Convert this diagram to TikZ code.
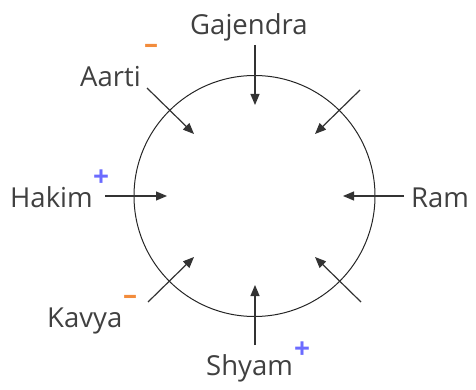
\documentclass[tikz,border=0pt]{standalone}
\usepackage{fontspec}
\setmainfont{Open Sans}
\usetikzlibrary{arrows.meta}
\definecolor{txt}{HTML}{404040}
\definecolor{minusc}{HTML}{F28C3C}
\definecolor{plusc}{HTML}{6B6BFF}
\begin{document}
\begin{tikzpicture}[x=1pt,y=-1pt,
  lbl/.style={anchor=base west,inner sep=0pt,text=txt,font=\fontsize{27.5}{30}\selectfont},
  sgn/.style={inner sep=0pt,font=\fontsize{28}{30}\selectfont\bfseries},
  arr/.style={line width=1.2pt,draw=black!80,-{Triangle[length=11pt,width=9pt]}}]
\useasboundingbox (0,0) rectangle (476,390);
\node[draw=black!85,line width=1pt,circle,minimum size=241pt,inner sep=0pt] (ring) at (254.5,196) {};
% labels
\node[lbl] (gaj) at (190,35) {Gajendra};
\node[lbl] (aar) at (80,87) {Aarti};
\node[lbl] (hak) at (10,207) {Hakim};
\node[lbl] (ram) at (411,207) {Ram};
\node[lbl] (kav) at (47,327) {Kavya};
\node[lbl] (shy) at (206,375) {Shyam};
% signs
\node[sgn,text=minusc] (sa) at (151,49) {–};
\node[sgn,text=plusc] (sh) at (101,178) {+};
\node[sgn,text=minusc] (sk) at (130,300) {–};
\node[sgn,text=plusc] (ss) at (302,350) {+};
% arrow ends
\coordinate (g1) at (255,45);  \coordinate (g2) at (255,105);
\coordinate (a1) at (147,88);  \coordinate (a2) at (194,134);
\coordinate (t1) at (360,90);  \coordinate (t2) at (315,134);
\coordinate (h1) at (105,196); \coordinate (h2) at (167,196);
\coordinate (r1) at (404,196); \coordinate (r2) at (343,196);
\coordinate (k1) at (148,302); \coordinate (k2) at (194,257);
\coordinate (b1) at (361,302); \coordinate (b2) at (315,257);
\coordinate (s1) at (255,345); \coordinate (s2) at (255,285);
\foreach \p in {g,a,t,h,r,k,b,s}{\draw[arr] (\p1) -- (\p2);}
\end{tikzpicture}
\end{document}
